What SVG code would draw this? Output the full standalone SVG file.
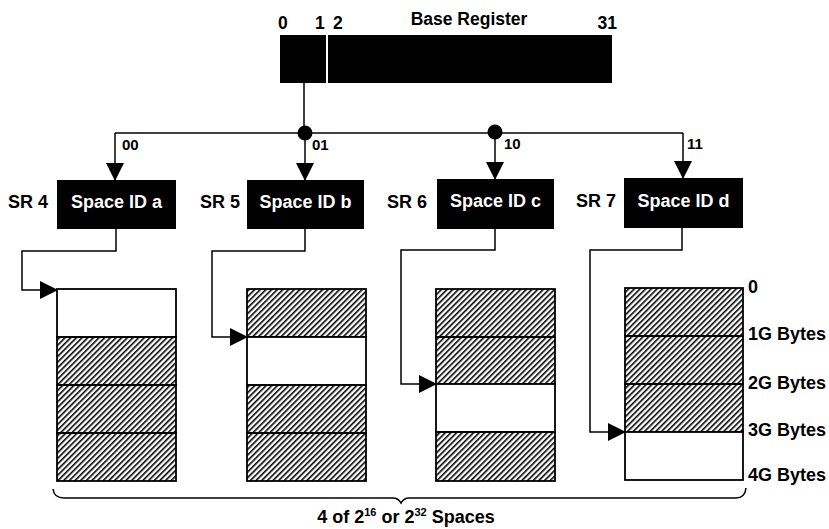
<svg xmlns="http://www.w3.org/2000/svg" width="829" height="529" viewBox="0 0 829 529">
<defs>
<pattern id="hatch" patternUnits="userSpaceOnUse" width="4" height="10" patternTransform="rotate(45)">
<rect x="0" y="0" width="1.6" height="10" fill="#000"/>
</pattern>
<marker id="arr" markerUnits="userSpaceOnUse" markerWidth="18" markerHeight="18" refX="17" refY="9" orient="auto" viewBox="0 0 18 18">
<path d="M0,0 L18,9 L0,18 Z" fill="#000"/>
</marker>
</defs>
<style>
text{font-family:"Liberation Sans",Arial,Helvetica,sans-serif;font-weight:bold;fill:#000}
.lbl{font-size:17.5px}
.bit{font-size:15px}
.wt{font-size:18px;fill:#fff;text-anchor:middle}
.sr{font-size:18px}
.box{fill:#000}
.mem{fill:#fff;stroke:#000;stroke-width:1.8}
.hat{fill:url(#hatch);stroke:#000;stroke-width:1.8}
.ln{fill:none;stroke:#000;stroke-width:1.5}
</style>

<g id="base-register">
<rect class="box" x="280" y="35" width="46" height="48"/>
<rect class="box" x="328" y="35" width="284" height="48"/>
<text class="lbl" x="278" y="29">0</text>
<text class="lbl" x="315" y="29">1</text>
<text class="lbl" x="333" y="29">2</text>
<text class="lbl" x="469" y="25" text-anchor="middle">Base Register</text>
<text class="lbl" x="617" y="29" text-anchor="end">31</text>
</g>

<g id="connectors">
<path class="ln" d="M304,83 L304,133"/>
<path class="ln" d="M115,133 L683,133"/>
<circle cx="305" cy="133" r="7.5" fill="#000"/>
<circle cx="495" cy="132" r="7.5" fill="#000"/>
<path class="ln" d="M115,133 L115,180" marker-end="url(#arr)"/>
<path class="ln" d="M305,133 L305,180" marker-end="url(#arr)"/>
<path class="ln" d="M495,132 L495,179" marker-end="url(#arr)"/>
<path class="ln" d="M683,133 L683,178" marker-end="url(#arr)"/>
<text class="bit" x="122" y="150">00</text>
<text class="bit" x="312" y="150">01</text>
<text class="bit" x="504" y="149">10</text>
<text class="bit" x="687" y="149">11</text>
<path class="ln" d="M116,229 L116,251 L22,251 L22,290 L57,290" marker-end="url(#arr)"/>
<path class="ln" d="M305,229 L305,251 L212,251 L212,337 L247,337" marker-end="url(#arr)"/>
<path class="ln" d="M495,229 L495,250 L401,250 L401,384 L436,384" marker-end="url(#arr)"/>
<path class="ln" d="M682,228 L682,250 L590,250 L590,432 L625,432" marker-end="url(#arr)"/>
</g>

<g id="sr4">
<text class="sr" x="8" y="208">SR 4</text>
<rect class="box" x="57" y="180" width="119" height="49"/>
<text class="wt" x="116.5" y="208">Space ID a</text>
</g>
<g id="sr5">
<text class="sr" x="200" y="208">SR 5</text>
<rect class="box" x="247" y="180" width="117" height="49"/>
<text class="wt" x="305.5" y="208">Space ID b</text>
</g>
<g id="sr6">
<text class="sr" x="387" y="208">SR 6</text>
<rect class="box" x="437" y="179" width="117" height="50"/>
<text class="wt" x="495.5" y="207">Space ID c</text>
</g>
<g id="sr7">
<text class="sr" x="576" y="207">SR 7</text>
<rect class="box" x="624" y="178" width="119" height="50"/>
<text class="wt" x="683.5" y="207">Space ID d</text>
</g>

<g id="space-a">
<rect class="mem" x="57" y="289" width="119" height="48"/>
<rect class="hat" x="57" y="337" width="119" height="48"/>
<rect class="hat" x="57" y="385" width="119" height="48"/>
<rect class="hat" x="57" y="433" width="119" height="48"/>
</g>
<g id="space-b">
<rect class="hat" x="247" y="289" width="119" height="48"/>
<rect class="mem" x="247" y="337" width="119" height="48"/>
<rect class="hat" x="247" y="385" width="119" height="48"/>
<rect class="hat" x="247" y="433" width="119" height="48"/>
</g>
<g id="space-c">
<rect class="hat" x="436" y="289" width="119" height="48"/>
<rect class="hat" x="436" y="337" width="119" height="47"/>
<rect class="mem" x="436" y="384" width="119" height="48"/>
<rect class="hat" x="436" y="432" width="119" height="49"/>
</g>
<g id="space-d">
<rect class="hat" x="625" y="288" width="118" height="48"/>
<rect class="hat" x="625" y="336" width="118" height="48"/>
<rect class="hat" x="625" y="384" width="118" height="48"/>
<rect class="mem" x="625" y="432" width="118" height="48"/>
<text class="sr" x="748" y="293">0</text>
<text class="sr" x="748" y="340">1G Bytes</text>
<text class="sr" x="748" y="389">2G Bytes</text>
<text class="sr" x="748" y="436">3G Bytes</text>
<text class="sr" x="748" y="481">4G Bytes</text>
</g>

<g id="brace">
<path class="ln" d="M53,489 Q54,498 64,498 L393,498 Q398,498 401,503 Q404,498 409,498 L736,498 Q745,498 746,488"/>
<text class="sr" x="406" y="523" text-anchor="middle">4 of 2<tspan font-size="11" dy="-7">16</tspan><tspan dy="7"> or 2</tspan><tspan font-size="11" dy="-7">32</tspan><tspan dy="7"> Spaces</tspan></text>
</g>
</svg>
